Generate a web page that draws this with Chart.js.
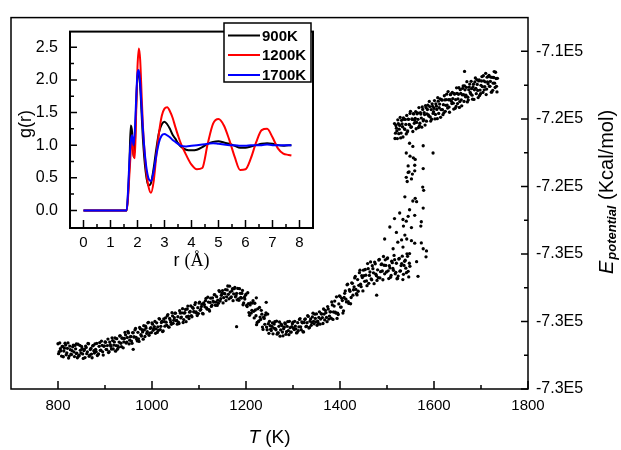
<!DOCTYPE html>
<html><head><meta charset="utf-8">
<script src="https://cdn.jsdelivr.net/npm/chart.js@4.4.0/dist/chart.umd.min.js"></script>
<style>
html,body{margin:0;padding:0;background:#fff;}
#wrap{position:relative;width:621px;height:450px;overflow:hidden;}
#main{position:absolute;left:0;top:0;}
#inset{position:absolute;left:0;top:10px;}
</style></head><body>
<div id="wrap"><canvas id="main" width="621" height="450"></canvas><canvas id="inset" width="330" height="270"></canvas></div>
<script>
// ---------- main chart data: T (K) vs potential energy (kcal/mol) ----------
const bandLowT = [
800,802.5,805,807.5,810,812.5,815,817.5,820,822.5,825,827.5,830,832.5,835,837.5,840,842.5,845,847.5,
850,852.5,855,857.5,860,862.5,865,867.5,870,872.5,875,877.5,880,882.5,885,887.5,890,892.5,895,897.5,
900,902.5,905,907.5,910,912.5,915,917.5,920,922.5,925,927.5,930,932.5,935,937.5,940,942.5,945,947.5,
950,952.5,955,957.5,960,962.5,965,967.5,970,972.5,975,977.5,980,982.5,985,987.5,990,992.5,995,997.5,
1000,1002.5,1005,1007.5,1010,1012.5,1015,1017.5,1020,1022.5,1025,1027.5,1030,1032.5,1035,1037.5,1040,1042.5,1045,1047.5,
1050,1052.5,1055,1057.5,1060,1062.5,1065,1067.5,1070,1072.5,1075,1077.5,1080,1082.5,1085,1087.5,1090,1092.5,1095,1097.5,
1100,1102.5,1105,1107.5,1110,1112.5,1115,1117.5,1120,1122.5,1125,1127.5,1130,1132.5,1135,1137.5,1140,1142.5,1145,1147.5,
1150,1152.5,1155,1157.5,1160,1162.5,1165,1167.5,1170,1172.5,1175,1177.5,1180,1182.5,1185,1187.5,1190,1192.5,1195,1197.5,
1200,1202.5,1205,1207.5,1210,1212.5,1215,1217.5,1220,1222.5,1225,1227.5,1230,1232.5,1235,1237.5,1240,1242.5,1245,1247.5,
1250,1252.5,1255,1257.5,1260,1262.5,1265,1267.5,1270,1272.5,1275,1277.5,1280,1282.5,1285,1287.5,1290,1292.5,1295,1297.5,
1300,1302.5,1305,1307.5,1310,1312.5,1315,1317.5,1320,1322.5,1325,1327.5,1330,1332.5,1335,1337.5,1340,1342.5,1345,1347.5,
1350,1352.5,1355,1357.5,1360,1362.5,1365,1367.5,1370,1372.5,1375,1377.5,1380,1382.5,1385,1387.5,1390,1392.5,1395,1397.5,
1400,1402.5,1405,1407.5,1410,1412.5,1415,1417.5,1420,1422.5,1425,1427.5,1430,1432.5,1435,1437.5,1440,1442.5,1445,1447.5,
1450,1452.5,1455,1457.5,1460,1462.5,1465,1467.5,1470,1472.5,1475,1477.5,1480,1482.5,1485,1487.5,1490,1492.5,1495,1497.5,
1500,1502.5,1505,1507.5,1510,1512.5,1515,1517.5,1520,1522.5,1525,1527.5,1530,1532.5,1535,1537.5,1540,1542.5,1545,1547.5];
const bandLowE = [
-731320,-731790,-731610,-732050,-731470,-731750,-731290,-731970,-731590,-732170,-731460,-731930,-731730,-731400,-732080,-731620,-731880,-731350,-732010,-731710,
-731470,-731920,-731720,-732140,-731540,-731800,-731320,-731990,-731590,-732150,-731420,-731870,-731650,-731300,-731960,-731470,-731710,-731160,-731800,-731470,
-731210,-731650,-731430,-731840,-731220,-731470,-730970,-731630,-731210,-731760,-731020,-731450,-731220,-730850,-731490,-730990,-731210,-730650,-731280,-730950,
-730680,-731110,-730890,-731290,-730670,-730910,-730410,-731060,-730640,-731180,-730430,-730860,-730620,-730250,-730890,-730390,-730610,-730050,-730690,-730360,
-730090,-730520,-730300,-730700,-730080,-730320,-729830,-730480,-730060,-730600,-729850,-730280,-730040,-729670,-730320,-729820,-730040,-729480,-730110,-729780,
-729510,-729940,-729720,-730120,-729500,-729740,-729240,-729890,-729470,-730010,-729260,-729690,-729450,-729080,-729720,-729220,-729440,-728880,-729510,-729180,
-728910,-729340,-729120,-729520,-728900,-729130,-728630,-729270,-728850,-729380,-728620,-729040,-728790,-728410,-729040,-728530,-728740,-728170,-728790,-728450,
-728170,-728590,-728360,-728760,-728130,-728390,-727910,-728590,-728190,-728770,-728060,-728540,-728340,-728040,-728750,-728330,-728620,-728160,-728900,-728670,
-728380,-729120,-728940,-729630,-728900,-729340,-728770,-729790,-729320,-730190,-729250,-729970,-729740,-729340,-730330,-729750,-730170,-729490,-730490,-730130,
-729990,-730460,-730290,-730730,-730150,-730430,-729980,-730670,-730290,-730870,-730160,-730630,-730430,-730090,-730760,-730290,-730540,-729990,-730630,-730300,
-730040,-730480,-730270,-730680,-730070,-730320,-729830,-730490,-730080,-730620,-729880,-730310,-730070,-729700,-730350,-729850,-730070,-729510,-730140,-729820,
-729550,-729980,-729760,-730160,-729540,-729770,-729260,-729910,-729480,-730010,-729260,-729680,-729430,-728840,-729880,-729090,-729450,-728540,-729510,-728960,
-728510,-729150,-728760,-729370,-728330,-728680,-727830,-728830,-728120,-728950,-727710,-728440,-727950,-727330,-728350,-727520,-727860,-726960,-727940,-727400,
-726960,-727620,-727260,-727880,-726870,-727270,-726470,-727530,-726870,-727760,-726580,-727290,-726940,-726360,-727420,-726630,-727010,-726150,-727180,-726680,
-726280,-727000,-726700,-727380,-726430,-726860,-726090,-727180,-726550,-727450,-726300,-727020,-726690,-726130,-727210,-726440,-726840,-725990,-727030,-726550];
const bandLow2T = [
801.25,803.75,806.25,808.75,811.25,813.75,816.25,818.75,821.25,823.75,826.25,828.75,831.25,833.75,836.25,838.75,841.25,843.75,846.25,848.75,
851.25,853.75,856.25,858.75,861.25,863.75,866.25,868.75,871.25,873.75,876.25,878.75,881.25,883.75,886.25,888.75,891.25,893.75,896.25,898.75,
901.25,903.75,906.25,908.75,911.25,913.75,916.25,918.75,921.25,923.75,926.25,928.75,931.25,933.75,936.25,938.75,941.25,943.75,946.25,948.75,
951.25,953.75,956.25,958.75,961.25,963.75,966.25,968.75,971.25,973.75,976.25,978.75,981.25,983.75,986.25,988.75,991.25,993.75,996.25,998.75,
1001.25,1003.75,1006.25,1008.75,1011.25,1013.75,1016.25,1018.75,1021.25,1023.75,1026.25,1028.75,1031.25,1033.75,1036.25,1038.75,1041.25,1043.75,1046.25,1048.75,
1051.25,1053.75,1056.25,1058.75,1061.25,1063.75,1066.25,1068.75,1071.25,1073.75,1076.25,1078.75,1081.25,1083.75,1086.25,1088.75,1091.25,1093.75,1096.25,1098.75,
1101.25,1103.75,1106.25,1108.75,1111.25,1113.75,1116.25,1118.75,1121.25,1123.75,1126.25,1128.75,1131.25,1133.75,1136.25,1138.75,1141.25,1143.75,1146.25,1148.75,
1151.25,1153.75,1156.25,1158.75,1161.25,1163.75,1166.25,1168.75,1171.25,1173.75,1176.25,1178.75,1181.25,1183.75,1186.25,1188.75,1191.25,1193.75,1196.25,1198.75,
1201.25,1203.75,1206.25,1208.75,1211.25,1213.75,1216.25,1218.75,1221.25,1223.75,1226.25,1228.75,1231.25,1233.75,1236.25,1238.75,1241.25,1243.75,1246.25,1248.75,
1251.25,1253.75,1256.25,1258.75,1261.25,1263.75,1266.25,1268.75,1271.25,1273.75,1276.25,1278.75,1281.25,1283.75,1286.25,1288.75,1291.25,1293.75,1296.25,1298.75,
1301.25,1303.75,1306.25,1308.75,1311.25,1313.75,1316.25,1318.75,1321.25,1323.75,1326.25,1328.75,1331.25,1333.75,1336.25,1338.75,1341.25,1343.75,1346.25,1348.75,
1351.25,1353.75,1356.25,1358.75,1361.25,1363.75,1366.25,1368.75,1371.25,1373.75,1376.25,1378.75,1381.25,1383.75,1386.25,1388.75,1391.25,1393.75,1396.25,1398.75,
1401.25,1403.75,1406.25,1408.75,1411.25,1413.75,1416.25,1418.75,1421.25,1423.75,1426.25,1428.75,1431.25,1433.75,1436.25,1438.75,1441.25,1443.75,1446.25,1448.75,
1451.25,1453.75,1456.25,1458.75,1461.25,1463.75,1466.25,1468.75,1471.25,1473.75,1476.25,1478.75,1481.25,1483.75,1486.25,1488.75,1491.25,1493.75,1496.25,1498.75,
1501.25,1503.75,1506.25,1508.75,1511.25,1513.75,1516.25,1518.75,1521.25,1523.75,1526.25,1528.75,1531.25,1533.75,1536.25,1538.75,1541.25,1543.75,1546.25,1548.75];
const bandLow2E = [
-731910,-731270,-731740,-731480,-732090,-731580,-731400,-731860,-731270,-732050,-731670,-731960,-731500,-731800,-731420,-731900,-732150,-732060,-731410,-731870,
-731600,-732190,-731660,-731460,-731910,-731300,-732060,-731660,-731930,-731450,-731730,-731330,-731790,-732020,-731920,-731250,-731700,-731410,-731990,-731440,
-731230,-731670,-731040,-731790,-731370,-731630,-731130,-731400,-730980,-731430,-731650,-731530,-730860,-731290,-730990,-731560,-731010,-730790,-731220,-730590,
-731330,-730910,-731160,-730660,-730920,-730500,-730940,-731150,-731030,-730350,-730780,-730480,-731050,-730500,-730280,-730710,-730080,-730820,-730410,-730660,
-730160,-730420,-730000,-730440,-730650,-730530,-729860,-730290,-729990,-730560,-730010,-729790,-730220,-729590,-730340,-729920,-730170,-729670,-729930,-729510,
-729950,-730160,-730040,-729360,-729790,-729490,-730060,-729510,-729290,-729720,-729090,-729830,-729410,-729660,-729160,-729420,-729000,-729440,-729650,-729530,
-728850,-729280,-728980,-729550,-729000,-728770,-729200,-728560,-729300,-728870,-729110,-728600,-728850,-728420,-728850,-729050,-728920,-728230,-728650,-728340,
-728900,-728340,-728110,-728540,-727900,-728660,-728260,-728540,-728060,-728360,-727980,-728470,-728720,-728670,-728060,-728570,-728340,-729010,-728570,-728450,
-729050,-728300,-729470,-729020,-729500,-728910,-729400,-728920,-729660,-730060,-730010,-729170,-729880,-729570,-730470,-729820,-729620,-730330,-729560,-730700,
-730250,-730540,-730090,-730390,-730010,-730490,-730750,-730670,-730030,-730500,-730240,-730850,-730340,-730150,-730610,-730010,-730780,-730370,-730630,-730130,
-730400,-729990,-730440,-730660,-730550,-729880,-730320,-730030,-730610,-730060,-729850,-730280,-729650,-730390,-729980,-730230,-729730,-729990,-729570,-730020,
-730230,-730110,-729430,-729860,-729560,-730120,-729560,-729340,-729760,-729120,-729860,-729430,-729810,-729020,-729440,-728790,-729500,-729820,-729590,-728480,
-729150,-728630,-729500,-728580,-728190,-728840,-727790,-728930,-728210,-728580,-727740,-728120,-727420,-728100,-728430,-728210,-727110,-727790,-727290,-728190,
-727290,-726920,-727600,-726570,-727740,-727070,-727480,-726700,-727120,-726480,-727200,-727570,-727400,-726330,-727050,-726590,-727530,-726670,-726350,-727070,
-726240,-727460,-726830,-727270,-726520,-726970,-726340,-727090,-727470,-727310,-726270,-727000,-726570,-727520,-726680,-726370,-727110,-726140,-727360,-726730];
const transT = [1577,1559,1545,1541,1552,1543,1576,1578,1538,1560,1555,1563,1577,1548,1527,1545,1559,1516,1534,1541,1573,1506,1535,1552,1572,1495,1520,1538,1542,1552,1523,1531,1559,1573,1513,1534,1577,1584,1548,1583,1563,1566,
1548,1555,1577,1541,1549,1556,1598,1560,1545,1559,1547,1554,
1180,960,839,1243,1222,1478,1665];
const transE = [-720942,-721075,-721173,-721462,-721554,-721710,-722039,-722229,-722616,-722708,-722864,-722904,-723285,-723383,-723574,-723770,-723712,-723902,-723960,-724058,-724093,-724404,-724347,-724439,-724347,-725114,-724728,-724883,-725114,-725212,-725305,-725172,-725362,-725345,-725691,-725593,-725691,-725824,-725980,-726170,-726459,-727324,
-719442,-719633,-719592,-720019,-720210,-720308,-720019,-720400,-720787,-720746,-721133,-721266,
-730307,-731652,-731328,-728865,-728600,-728443,-715190];
const bandHighT = [1516,1518,1520,1522,1524,1526,1528,1530,1532,1534,1536,1538,1540,1542,1544,1546,1548,1550,1552,1554,1556,1558,1560,1562,1564,1566,1568,1570,1572,1574,1576,1578,1580,1582,1584,1586,1588,1590,1592,1594,1596,1598,1600,1602,1604,1606,1608,1610,1612,1614,1616,1618,1620,1622,1624,1626,1628,1630,1632,1634,1636,1638,1640,1642,1644,1646,1648,1650,1652,1654,1656,1658,1660,1662,1664,1666,1668,1670,1672,1674,1676,1678,1680,1682,1684,1686,1688,1690,1692,1694,1696,1698,1700,1702,1704,1706,1708,1710,1712,1714,1716,1718,1720,1722,1724,1726,1728,1730,1732,1734];
const bandHighE = [
-718276,-718847,-718548,-719168,-718279,-718610,-717911,-718842,-718292,-719073,
-718024,-718625,-718326,-717796,-718717,-718028,-718349,-717550,-718471,-718031,
-717692,-718263,-717964,-718585,-717695,-718026,-717327,-718258,-717709,-718489,
-717440,-718041,-717742,-717213,-718133,-717444,-717765,-716966,-717887,-717447,
-717108,-717679,-717380,-718001,-717111,-717442,-716743,-717674,-717125,-717905,
-716856,-717457,-717158,-716629,-717549,-716860,-717181,-716382,-717303,-716863,
-716524,-717095,-716796,-717417,-716527,-716858,-716159,-717090,-716541,-717321,
-716272,-716873,-716574,-716045,-716965,-716276,-716597,-715798,-716719,-716279,
-715940,-716511,-716212,-716833,-715943,-716274,-715575,-716506,-715957,-716737,
-715688,-716295,-716012,-715496,-716430,-715754,-716088,-715302,-716236,-715810,
-715484,-716068,-715782,-716416,-715540,-715884,-715198,-716142,-715606,-716400];
const bandHigh2T = [1517,1519,1521,1523,1525,1527,1529,1531,1533,1535,1537,1539,1541,1543,1545,1547,1549,1551,1553,1555,1557,1559,1561,1563,1565,1567,1569,1571,1573,1575,1577,1579,1581,1583,1585,1587,1589,1591,1593,1595,1597,1599,1601,1603,1605,1607,1609,1611,1613,1615,1617,1619,1621,1623,1625,1627,1629,1631,1633,1635,1637,1639,1641,1643,1645,1647,1649,1651,1653,1655,1657,1659,1661,1663,1665,1667,1669,1671,1673,1675,1677,1679,1681,1683,1685,1687,1689,1691,1693,1695,1697,1699,1701,1703,1705,1707,1709,1711,1713,1715,1717,1719,1721,1723,1725,1727,1729,1731,1733,1735];
const bandHigh2E = [
-719161,-718392,-718713,-718053,-718874,-718385,-719126,-718087,-718467,-717948,
-718589,-718030,-718891,-718781,-718012,-718333,-717674,-718495,-718006,-718746,
-717707,-718088,-717569,-718210,-717650,-718511,-718402,-717633,-717954,-717294,
-718115,-717626,-718367,-717328,-717708,-717189,-717830,-717271,-718132,-718022,
-717253,-717574,-716915,-717736,-717246,-717987,-716948,-717329,-716810,-717450,
-716891,-717752,-717643,-716874,-717194,-716535,-717356,-716867,-717608,-716568,
-716949,-716430,-717071,-716512,-717372,-717263,-716494,-716815,-716156,-716976,
-716487,-717228,-716189,-716570,-716050,-716691,-716132,-716993,-716884,-716114,
-716435,-715776,-716597,-716108,-716848,-715809,-716190,-715671,-716312,-715752,
-716613,-716510,-715757,-716091,-715445,-716279,-715803,-716557,-715531,-715925,
-715419,-716073,-715527,-716401,-716305,-715549,-715883,-715237,-716071,-715595];
const xMajor = [800,1000,1200,1400,1600,1800];
const xMinor = [900,1100,1300,1500,1700];
const yMajor = [-734000,-730000,-726000,-722000,-718000,-714000];
const yMinor = [-732000,-728000,-724000,-720000,-716000];

// ---------- inset data: g(r) ----------
const rVals = [0,0.5,1,1.5,1.6,1.65,1.7,1.75,1.8,1.85,1.9,1.95,2,2.05,2.1,2.15,2.2,2.3,2.4,2.5,2.6,2.7,2.8,2.9,3,3.1,3.2,3.3,3.4,3.5,3.6,3.8,4,4.2,4.4,4.6,4.8,5,5.2,5.4,5.6,5.8,6,6.2,6.4,6.6,6.8,7,7.2,7.4,7.6,7.7];
const g900 = [0,0,0,0,0,0.25,0.7,1.3,1.2,0.82,1.0,1.6,2.05,2.1,1.9,1.5,1.1,0.6,0.38,0.42,0.65,0.95,1.2,1.32,1.36,1.32,1.25,1.16,1.1,1.03,0.98,0.93,0.92,0.93,0.97,1.02,1.05,1.06,1.04,1.02,0.99,0.96,0.96,0.98,1.0,1.02,1.03,1.02,1.0,0.99,1.0,1.0];
const g1200 = [0,0,0,0,0,0.2,0.55,0.9,1.15,0.85,0.8,1.5,2.2,2.48,2.3,1.8,1.3,0.7,0.38,0.27,0.45,0.85,1.2,1.45,1.56,1.58,1.52,1.42,1.28,1.15,1.03,0.85,0.7,0.63,0.65,1.02,1.33,1.4,1.3,1.08,0.82,0.62,0.63,0.8,1.05,1.23,1.25,1.12,0.95,0.87,0.85,0.84];
const g1700 = [0,0,0,0,0,0.3,0.75,1.05,1.15,1.0,1.2,1.7,2.1,2.15,1.95,1.6,1.25,0.75,0.5,0.45,0.6,0.85,1.05,1.15,1.17,1.15,1.12,1.08,1.05,1.02,0.99,0.98,0.99,1.0,1.01,1.02,1.03,1.02,1.01,1.0,1.0,0.99,0.99,1.0,1.0,1.0,1.01,1.0,1.0,1.0,1.0,1.0];
const seriesLabels = ['900K','1200K','1700K'];
const seriesColors = ['#000000','#ff0000','#0000ff'];
const rMajor = [0,1,2,3,4,5,6,7,8];
const rMinor = [0.5,1.5,2.5,3.5,4.5,5.5,6.5,7.5];
const gMajor = [0,0.5,1,1.5,2,2.5];
const gMinor = [0.25,0.75,1.25,1.75,2.25];

const FONT = "'Liberation Sans', Arial, Helvetica, sans-serif";
const pts = (X, Y) => X.map((v, i) => ({x: v, y: Y[i]}));

const mainDecor = {
  id: 'mainDecor',
  afterDraw(chart) {
    const {ctx, chartArea: a, scales: {x, y}} = chart;
    ctx.save();
    ctx.strokeStyle = '#000'; ctx.lineWidth = 1.5;
    ctx.strokeRect(a.left, a.top, a.right - a.left, a.bottom - a.top);
    ctx.beginPath();
    xMajor.forEach(v => { const p = x.getPixelForValue(v); ctx.moveTo(p, a.bottom); ctx.lineTo(p, a.bottom - 8); });
    xMinor.forEach(v => { const p = x.getPixelForValue(v); ctx.moveTo(p, a.bottom); ctx.lineTo(p, a.bottom - 4); });
    yMajor.forEach(v => { const p = y.getPixelForValue(v); ctx.moveTo(a.right, p); ctx.lineTo(a.right - 7, p); });
    yMinor.forEach(v => { const p = y.getPixelForValue(v); ctx.moveTo(a.right, p); ctx.lineTo(a.right - 4, p); });
    ctx.stroke();
    ctx.fillStyle = '#000'; ctx.textBaseline = 'alphabetic'; ctx.textAlign = 'left';
    const fI = 'italic 19px ' + FONT, fN = '19px ' + FONT;
    ctx.font = fI; const wT = ctx.measureText('T').width;
    ctx.font = fN; const wK = ctx.measureText(' (K)').width;
    const sx = (a.left + a.right) / 2 - (wT + wK) / 2;
    ctx.font = fI; ctx.fillText('T', sx, 443);
    ctx.font = fN; ctx.fillText(' (K)', sx + wT, 443);
    const fE = 'italic 20px ' + FONT, fS = 'bold italic 13px ' + FONT, fU = '20px ' + FONT;
    ctx.font = fE; const wE = ctx.measureText('E').width;
    ctx.font = fS; const wP = ctx.measureText('potential').width;
    ctx.font = fU; const wU = ctx.measureText(' (Kcal/mol)').width;
    const tot = wE + wP + wU + 1;
    ctx.translate(613, 192 + tot / 2);
    ctx.rotate(-Math.PI / 2);
    ctx.font = fE; ctx.fillText('E', 0, 0);
    ctx.font = fS; ctx.fillText('potential', wE + 1, 3);
    ctx.font = fU; ctx.fillText(' (Kcal/mol)', wE + 1 + wP, 0);
    ctx.restore();
  }
};

new Chart(document.getElementById('main'), {
  type: 'scatter',
  data: { datasets: [
    { data: pts(bandLowT, bandLowE) },
    { data: pts(bandLow2T, bandLow2E) },
    { data: pts(transT, transE) },
    { data: pts(bandHighT, bandHighE) },
    { data: pts(bandHigh2T, bandHigh2E) }
  ]},
  options: {
    responsive: false, animation: false, devicePixelRatio: 1,
    layout: { padding: { left: 11, top: 8, right: 0, bottom: 0 } },
    plugins: { legend: { display: false }, tooltip: { enabled: false } },
    elements: { point: { radius: 1.65, backgroundColor: '#000', borderWidth: 0, pointStyle: 'circle' } },
    scales: {
      x: {
        type: 'linear', position: 'bottom', min: 700, max: 1800,
        afterFit(s) { s.height = 61; },
        afterBuildTicks(s) { s.ticks = xMajor.map(v => ({ value: v })); },
        ticks: { callback: v => String(v), font: { family: FONT, size: 15 }, color: '#000', padding: 8, maxRotation: 0, autoSkip: false },
        grid: { display: false, drawTicks: false }, border: { display: false }
      },
      y: {
        type: 'linear', position: 'right', min: -734000, max: -712000,
        afterFit(s) { s.width = 93; },
        afterBuildTicks(s) { s.ticks = yMajor.map(v => ({ value: v })); },
        ticks: { callback: v => (v / 1e5).toFixed(1) + 'E5', font: { family: FONT, size: 16 }, color: '#000', padding: 8, autoSkip: false },
        grid: { display: false, drawTicks: false }, border: { display: false }
      }
    }
  },
  plugins: [mainDecor]
});

// ---------- inset ----------
const insetDecor = {
  id: 'insetDecor',
  afterDraw(chart) {
    const {ctx, chartArea: a, scales: {x, y}} = chart;
    ctx.save();
    ctx.strokeStyle = '#000'; ctx.lineWidth = 2;
    ctx.strokeRect(a.left, a.top, a.right - a.left, a.bottom - a.top);
    ctx.lineWidth = 1.5;
    ctx.beginPath();
    rMajor.forEach(v => { const p = x.getPixelForValue(v); ctx.moveTo(p, a.bottom); ctx.lineTo(p, a.bottom - 8); });
    rMinor.forEach(v => { const p = x.getPixelForValue(v); ctx.moveTo(p, a.bottom); ctx.lineTo(p, a.bottom - 4); });
    gMajor.forEach(v => { const p = y.getPixelForValue(v); ctx.moveTo(a.left, p); ctx.lineTo(a.left + 7, p); });
    gMinor.forEach(v => { const p = y.getPixelForValue(v); ctx.moveTo(a.left, p); ctx.lineTo(a.left + 4, p); });
    ctx.stroke();
    ctx.fillStyle = '#000';
    ctx.save();
    ctx.translate(26, 114); ctx.rotate(-Math.PI / 2);
    ctx.font = '18px ' + FONT; ctx.textAlign = 'center'; ctx.textBaseline = 'middle';
    ctx.fillText('g(r)', 0, 0);
    ctx.restore();
    ctx.textAlign = 'left'; ctx.textBaseline = 'alphabetic';
    const fR = '18px ' + FONT, fA = "18px 'Liberation Serif', 'Times New Roman', serif";
    ctx.font = fR; const w1 = ctx.measureText('r ').width;
    ctx.font = fA; const w2 = ctx.measureText('(Å)').width;
    const sx = (a.left + a.right) / 2 - (w1 + w2) / 2;
    ctx.font = fR; ctx.fillText('r ', sx, 256);
    ctx.font = fA; ctx.fillText('(Å)', sx + w1, 256);
    const lx = 224, ly = 13, lw = 87, lh = 59;
    ctx.fillStyle = '#fff'; ctx.fillRect(lx, ly, lw, lh);
    ctx.lineWidth = 1.5; ctx.strokeStyle = '#000'; ctx.strokeRect(lx, ly, lw, lh);
    const rows = [25.5, 45, 65];
    ctx.font = 'bold 15px ' + FONT; ctx.textBaseline = 'middle';
    chart.data.datasets.forEach((d, i) => {
      ctx.strokeStyle = d.borderColor; ctx.lineWidth = 2;
      ctx.beginPath(); ctx.moveTo(lx + 4, rows[i]); ctx.lineTo(lx + 36, rows[i]); ctx.stroke();
      ctx.fillStyle = '#000'; ctx.fillText(d.label, lx + 38, rows[i] + 1);
    });
    ctx.restore();
  }
};

new Chart(document.getElementById('inset'), {
  type: 'line',
  data: { datasets: [
    { label: seriesLabels[0], data: pts(rVals, g900), borderColor: seriesColors[0], order: 2 },
    { label: seriesLabels[1], data: pts(rVals, g1200), borderColor: seriesColors[1], order: 1 },
    { label: seriesLabels[2], data: pts(rVals, g1700), borderColor: seriesColors[2], order: 0 }
  ]},
  options: {
    responsive: false, animation: false, devicePixelRatio: 1,
    layout: { padding: { left: 0, top: 12, right: 17, bottom: 0 } },
    plugins: { legend: { display: false }, tooltip: { enabled: false } },
    elements: { point: { radius: 0 }, line: { borderWidth: 2, cubicInterpolationMode: 'monotone', fill: false } },
    scales: {
      x: {
        type: 'linear', position: 'bottom', min: -0.5, max: 8.5,
        afterFit(s) { s.height = 52; },
        afterBuildTicks(s) { s.ticks = rMajor.map(v => ({ value: v })); },
        ticks: { callback: v => String(v), font: { family: FONT, size: 15 }, color: '#000', padding: 6, maxRotation: 0, autoSkip: false },
        grid: { display: false, drawTicks: false }, border: { display: false }
      },
      y: {
        type: 'linear', position: 'left', min: -0.27, max: 2.74,
        afterFit(s) { s.width = 70; },
        afterBuildTicks(s) { s.ticks = gMajor.map(v => ({ value: v })); },
        ticks: { callback: v => v.toFixed(1), font: { family: FONT, size: 16 }, color: '#000', padding: 12, autoSkip: false },
        grid: { display: false, drawTicks: false }, border: { display: false }
      }
    }
  },
  plugins: [insetDecor]
});
</script>
</body></html>
